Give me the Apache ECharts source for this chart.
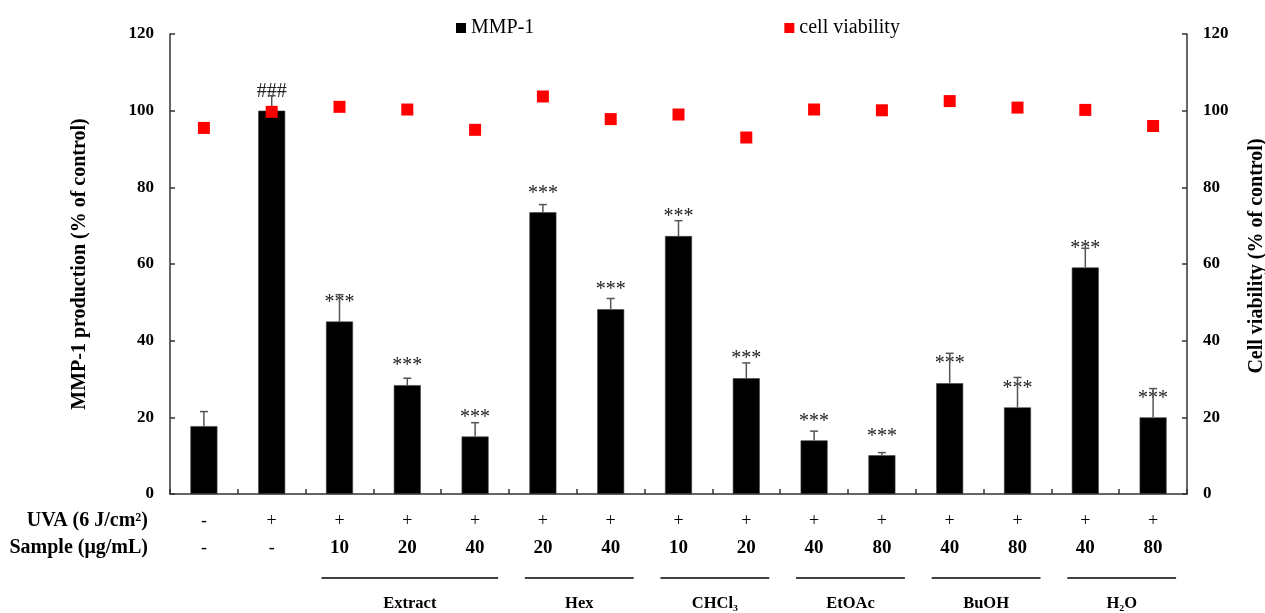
<!DOCTYPE html>
<html>
<head>
<meta charset="utf-8">
<script src="https://cdn.jsdelivr.net/npm/echarts@6/dist/echarts.min.js"></script>
<style>
  html, body { margin: 0; padding: 0; background: #fff; }
  #main { width: 1265px; height: 613px; }
</style>
</head>
<body>
<div id="main"></div>
<script>
// conditions, one per bar
const uva = ['-', '+', '+', '+', '+', '+', '+', '+', '+', '+', '+', '+', '+', '+', '+']
const sample = ['-', '-', '10', '20', '40', '20', '40', '10', '20', '40', '80', '40', '80', '40', '80']

// MMP-1 production (% of control) and its SD
const mmp1 = [17.7, 100, 45.0, 28.4, 15.0, 73.5, 48.2, 67.3, 30.2, 14.0, 10.1, 28.9, 22.6, 59.1, 20.0]
const mmp1Err = [3.8, 3.9, 7.0, 1.8, 3.6, 2.0, 2.8, 4.0, 4.0, 2.4, 0.7, 7.8, 7.8, 5.0, 7.5]
const sig = ['', '###', '***', '***', '***', '***', '***', '***', '***', '***', '***', '***', '***', '***', '***']

// cell viability (% of control)
const viability = [95.5, 99.7, 101.0, 100.3, 95.0, 103.7, 97.8, 99.0, 93.0, 100.3, 100.1, 102.5, 100.8, 100.2, 96.0]

// solvent fractions, as category index ranges
const groupNames = ['Extract', 'Hex', 'CHCl₃', 'EtOAc', 'BuOH', 'H₂O']
const groupStart = [2, 5, 7, 9, 11, 13]
const groupEnd = [4, 6, 8, 10, 12, 14]

const yTicks = [0, 20, 40, 60, 80, 100, 120]

const FONT = 'Liberation Serif'
const categories = uva.map((u, i) => 'c' + i)

const chart = echarts.init(document.getElementById('main'))

const axisLineStyle = { color: '#333', width: 1.5 }
const tickLabel = { margin: 16, fontFamily: FONT, fontSize: 17, fontWeight: 'bold', color: '#000' }
const axisName = { fontFamily: FONT, fontSize: 20, fontWeight: 'bold', color: '#000' }

chart.setOption({
  animation: false,
  textStyle: { fontFamily: FONT },
  grid: { left: 170, right: 78, top: 34, bottom: 119, containLabel: false, outerBoundsMode: 'none' },
  legend: {
    left: 451,
    top: 13,
    itemGap: 250,
    itemWidth: 10,
    itemHeight: 10,
    icon: 'rect',
    itemStyle: { borderWidth: 0 },
    textStyle: { fontFamily: FONT, fontSize: 20, color: '#000' },
    data: ['MMP-1', 'cell viability']
  },
  xAxis: {
    type: 'category',
    data: categories,
    axisLine: { lineStyle: axisLineStyle },
    axisTick: { show: true, inside: true, length: 5, interval: 0, lineStyle: axisLineStyle },
    axisLabel: {
      interval: 0,
      margin: 14,
      formatter: (v, i) => {
        const s = sample[i] === '-' ? 'a' : 'b'
        return '{a|' + uva[i] + '}\n{' + s + '|' + sample[i] + '}'
      },
      rich: {
        a: { fontFamily: FONT, fontSize: 18, color: '#000', lineHeight: 27 },
        b: { fontFamily: FONT, fontSize: 19, fontWeight: 'bold', color: '#000', lineHeight: 27 }
      }
    }
  },
  yAxis: [{
    type: 'value',
    min: yTicks[0],
    max: yTicks[yTicks.length - 1],
    interval: 20,
    splitLine: { show: false },
    axisLine: { show: true, lineStyle: axisLineStyle },
    axisTick: { show: true, inside: true, length: 5, lineStyle: axisLineStyle },
    axisLabel: tickLabel,
    name: 'MMP-1 production (% of control)',
    nameLocation: 'middle',
    nameRotate: 90,
    nameGap: 80,
    nameTextStyle: axisName
  }, {
    type: 'value',
    position: 'right',
    min: yTicks[0],
    max: yTicks[yTicks.length - 1],
    interval: 20,
    splitLine: { show: false },
    axisLine: { show: true, lineStyle: axisLineStyle },
    axisTick: { show: true, inside: true, length: 5, lineStyle: axisLineStyle },
    axisLabel: tickLabel,
    name: 'Cell viability (% of control)',
    nameLocation: 'middle',
    nameRotate: 90,
    nameGap: 60,
    nameTextStyle: Object.assign({ padding: [0, 0, 0, 16] }, axisName)
  }],
  series: [{
    name: 'MMP-1',
    type: 'bar',
    barWidth: 27,
    data: mmp1,
    itemStyle: { color: '#000', borderColor: '#444', borderWidth: 0.6 },
    label: {
      show: true,
      position: 'top',
      distance: 9,
      formatter: (p) => sig[p.dataIndex],
      fontFamily: FONT,
      fontSize: 20,
      color: '#222'
    },
    z: 2
  }, {
    name: 'MMP-1 SD',
    type: 'custom',
    data: mmp1.map((v, i) => [i, v, v + mmp1Err[i]]),
    renderItem: (params, api) => {
      const base = api.coord([api.value(0), api.value(1)])
      const top = api.coord([api.value(0), api.value(2)])
      const style = { stroke: '#555', lineWidth: 1.5 }
      return {
        type: 'group',
        children: [
          { type: 'line', shape: { x1: base[0], y1: base[1], x2: top[0], y2: top[1] }, style },
          { type: 'line', shape: { x1: top[0] - 4, y1: top[1], x2: top[0] + 4, y2: top[1] }, style }
        ]
      }
    },
    z: 3
  }, {
    name: 'cell viability',
    type: 'scatter',
    yAxisIndex: 1,
    symbol: 'rect',
    symbolSize: 12,
    data: viability,
    itemStyle: { color: '#ff0000', opacity: 1 },
    z: 4
  }]
})

// row titles, solvent brackets and names under the axis
function drawNotes () {
  const rowStyle = { fontFamily: FONT, fontSize: 20, fontWeight: 'bold', fill: '#000', align: 'right', verticalAlign: 'middle' }
  const elements = [
    { type: 'text', x: 148, y: 521, style: Object.assign({ text: 'UVA (6 J/cm²)' }, rowStyle) },
    { type: 'text', x: 148, y: 548, style: Object.assign({ text: 'Sample (μg/mL)' }, rowStyle) }
  ]
  groupNames.forEach((name, g) => {
    const x1 = chart.convertToPixel({ xAxisIndex: 0 }, groupStart[g]) - 18
    const x2 = chart.convertToPixel({ xAxisIndex: 0 }, groupEnd[g]) + 23
    elements.push({
      type: 'line',
      shape: { x1: x1, y1: 578, x2: x2, y2: 578 },
      style: { stroke: '#000', lineWidth: 1.5 }
    })
    elements.push({
      type: 'text',
      x: (x1 + x2) / 2,
      y: 604,
      style: { text: name, fontFamily: FONT, fontSize: 16.5, fontWeight: 'bold', fill: '#000', align: 'center', verticalAlign: 'middle' }
    })
  })
  chart.setOption({ graphic: elements })
}
drawNotes()
</script>
</body>
</html>
